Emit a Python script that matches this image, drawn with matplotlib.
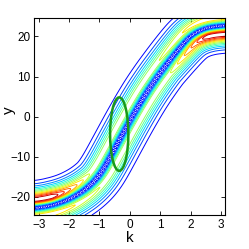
import numpy as np
import matplotlib
matplotlib.use('Agg')
import matplotlib.pyplot as plt
from matplotlib.colors import ListedColormap
from matplotlib.patches import Ellipse

plt.rcParams['font.family'] = ['Liberation Sans Narrow', 'Liberation Sans', 'DejaVu Sans']

# centre line of the band (k, y)
k_ctrl = [-3.6, -3.0, -2.5, -2.0, -1.5, -1.0, -0.5, 0.0, 0.5, 1.0, 1.5, 2.0, 2.5, 3.0, 3.6]
y_ctrl = [-22.9, -22.7, -22.0, -20.6, -18.4, -15.0, -8.0, -1.0, 5.5, 11.0, 15.8, 20.3, 22.1, 22.6, 22.8]

# band amplitude: middle, extra at the ends on the concave / convex side
amp_mid = 0.58
amp_concave = 0.45
amp_convex = 0.14

# green ellipse (centre k, centre y, width, height)
ell_center = (-0.35, -4.35)
ell_size = (0.6, 18.3)

levels = np.linspace(0.07, 1.0, 14)
xticks = [-3, -2, -1, 0, 1, 2, 3]
yticks = [-20, -10, 0, 10, 20]
xlim = (-np.pi, np.pi)
ylim = (-24.5, 24.5)

fig = plt.figure(figsize=(2.49, 2.49), dpi=100)
ax = fig.add_axes([0.138, 0.1365, 0.767, 0.79])

# pixels per data unit, used to measure distance as seen on screen
px_k = 0.767 * 249 / (xlim[1] - xlim[0])
px_y = 0.79 * 249 / (ylim[1] - ylim[0])

# smooth centre curve
kc = np.linspace(-3.6, 3.6, 1441)
yc = np.interp(kc, k_ctrl, y_ctrl)
ker = np.exp(-0.5 * (np.arange(-150, 151) / 36.0) ** 2)
ker /= ker.sum()
yc = np.convolve(np.pad(yc, 150, mode='edge'), ker, mode='valid')
sc = np.concatenate([[0], np.cumsum(np.hypot(np.diff(kc) * px_k, np.diff(yc) * px_y))])

kg = np.linspace(xlim[0], xlim[1], 500)
yg = np.linspace(ylim[0], ylim[1], 500)
ycurve = np.interp(kg, kc, yc)

F = np.zeros((len(yg), len(kg)))
for j, yv in enumerate(yg):
    d2 = ((kg[:, None] - kc[None, :]) * px_k) ** 2 + ((yv - yc[None, :]) * px_y) ** 2
    idx = np.argmin(d2, axis=1)
    d = np.sqrt(d2[np.arange(len(kg)), idx]) / px_y
    side = np.sign(yv - ycurve)
    kn = kc[idx]
    s = sc[idx]
    w = np.clip((np.abs(kn) - 1.1) / 1.4, 0, 1)
    concave = side * kn < 0
    A = amp_mid + w * np.where(concave, amp_concave, amp_convex)
    g = (1 - np.exp(-(d / 1.4) ** 2)) * np.exp(-(d / 3.9) ** 2) / 0.69
    bump = 0.13 * (0.5 + 0.5 * np.cos(2 * np.pi * s / 3.5)) * np.exp(-(d / 0.5) ** 2)
    F[j] = A * g + bump

jet = plt.get_cmap('jet')
cmap = ListedColormap(jet(np.linspace(0.13, 1.0, 256)))
ax.contour(kg, yg, F, levels=levels, cmap=cmap, linewidths=0.7)

ax.add_patch(Ellipse(ell_center, ell_size[0], ell_size[1], fill=False,
                     edgecolor=(0.1, 0.6, 0.1), linewidth=1.8, zorder=5))

ax.set_xlim(xlim)
ax.set_ylim(ylim)
ax.set_xticks(xticks)
ax.set_yticks(yticks)
ax.tick_params(direction='in', top=True, right=True, length=3, width=0.6,
               labelsize=8.5, pad=3)
for sp in ax.spines.values():
    sp.set_linewidth(0.8)
ax.set_xlabel('k', fontsize=11, labelpad=0)
fig.text(9 / 249, 1 - 110 / 249, 'y', rotation=90, fontsize=11,
         ha='center', va='center')

fig.savefig('out.png', dpi=100)
